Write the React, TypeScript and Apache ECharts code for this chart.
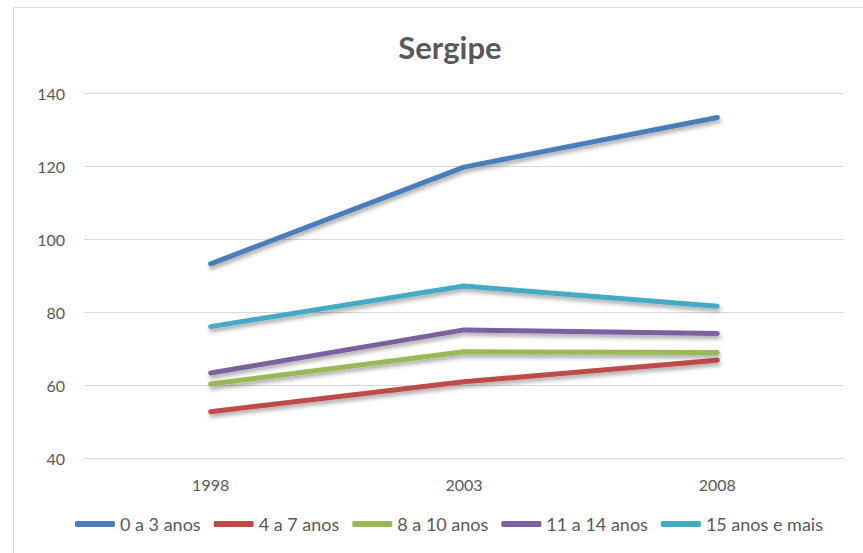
import React, { useEffect, useRef } from "react";
import * as echarts from "echarts";

const years = ["1998", "2003", "2008"];
const seriesNames = ["0 a 3 anos", "4 a 7 anos", "8 a 10 anos", "11 a 14 anos", "15 anos e mais"];
const s0a3 = [93.2, 119.7, 133.3];
const s4a7 = [52.7, 60.9, 66.8];
const s8a10 = [60.3, 69.1, 68.9];
const s11a14 = [63.3, 75.1, 74.1];
const s15mais = [76.0, 87.1, 81.6];
const colors = ["#4A7EBB", "#BE4B48", "#98B954", "#7D60A0", "#46AAC5"];

const FONT = "Lato";

export default function App() {
  const ref = useRef<HTMLDivElement>(null);
  useEffect(() => {
    if (!ref.current) return;
    const chart = echarts.init(ref.current, undefined, { renderer: "svg" });
    const values = [s0a3, s4a7, s8a10, s11a14, s15mais];
    chart.setOption({
      animation: false,
      backgroundColor: "#ffffff",
      textStyle: { fontFamily: FONT, color: "#595959" },
      title: {
        text: "Sergipe",
        left: 445,
        top: 26,
        textAlign: "center",
        textStyle: { fontFamily: FONT, fontSize: 31, fontWeight: "bold", color: "#595959" },
      },
      graphic: [
        {
          type: "rect",
          shape: { x: 13.5, y: 7.5, width: 900, height: 600 },
          style: { fill: "none", stroke: "#D9D9D9", lineWidth: 1 },
          silent: true,
        },
      ],
      legend: {
        bottom: 15,
        left: 70,
        itemWidth: 40,
        itemHeight: 6,
        itemGap: 13,
        icon: "roundRect",
        textStyle: { fontFamily: FONT, fontSize: 18, color: "#595959" },
        data: seriesNames,
      },
      grid: { left: 84, right: 19, top: 93, bottom: 95, containLabel: false },
      xAxis: {
        type: "category",
        data: years,
        boundaryGap: true,
        axisLine: { show: true, lineStyle: { color: "#D9D9D9", width: 1 } },
        axisTick: { show: false },
        axisLabel: { margin: 18, fontFamily: FONT, fontSize: 16, color: "#595959" },
      },
      yAxis: {
        type: "value",
        min: 40,
        max: 140,
        interval: 20,
        axisLine: { show: false },
        axisTick: { show: false },
        axisLabel: { margin: 19, fontFamily: FONT, fontSize: 16, color: "#595959" },
        splitLine: { lineStyle: { color: "#D9D9D9", width: 1 } },
      },
      series: seriesNames.map((name, i) => ({
        name,
        type: "line",
        data: values[i],
        color: colors[i],
        showSymbol: false,
        symbol: "none",
        lineStyle: {
          width: 5,
          color: colors[i],
          cap: "round",
          join: "round",
          shadowColor: "rgba(0,0,0,0.35)",
          shadowBlur: 4,
          shadowOffsetY: 3,
          shadowOffsetX: 1,
        },
      })),
    });
    return () => chart.dispose();
  }, []);
  return (
    <div
      ref={ref}
      style={{ position: "fixed", left: 0, top: 0, width: 863, height: 553 }}
    />
  );
}
